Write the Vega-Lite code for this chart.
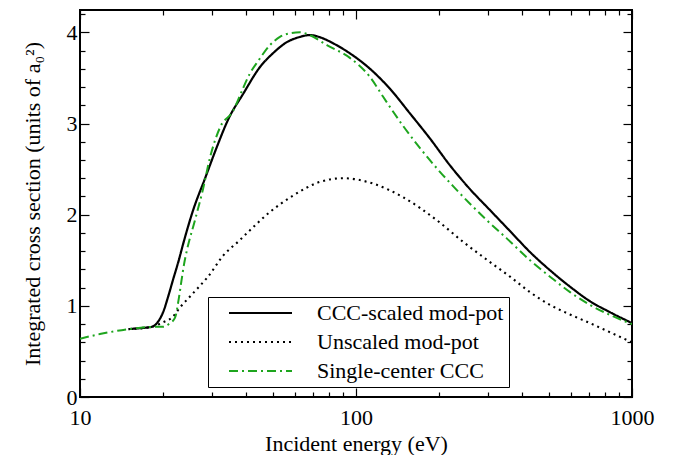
{
  "$schema": "https://vega.github.io/schema/vega-lite/v6.json",
  "autosize": "none",
  "width": 552,
  "height": 387,
  "padding": {"left": 80, "top": 10, "right": 50, "bottom": 58},
  "background": "white",
  "config": {
    "view": {"stroke": "black", "strokeWidth": 2},
    "font": "Liberation Serif",
    "axis": {"domain": false, "grid": false, "labelFont": "Liberation Serif", "titleFont": "Liberation Serif", "labelFontSize": 22, "titleFontSize": 22, "titleFontWeight": "normal", "labelColor": "black", "titleColor": "black", "tickColor": "black", "tickWidth": 1.2}
  },
  "data": {"values": [
    {"E": 15.0, "s": 0.745, "series": "CCC-scaled mod-pot"},
    {"E": 16.5, "s": 0.755, "series": "CCC-scaled mod-pot"},
    {"E": 18.2, "s": 0.77, "series": "CCC-scaled mod-pot"},
    {"E": 19.0, "s": 0.81, "series": "CCC-scaled mod-pot"},
    {"E": 20.0, "s": 0.93, "series": "CCC-scaled mod-pot"},
    {"E": 21.0, "s": 1.13, "series": "CCC-scaled mod-pot"},
    {"E": 21.7, "s": 1.28, "series": "CCC-scaled mod-pot"},
    {"E": 22.8, "s": 1.50, "series": "CCC-scaled mod-pot"},
    {"E": 23.6, "s": 1.67, "series": "CCC-scaled mod-pot"},
    {"E": 25.7, "s": 2.05, "series": "CCC-scaled mod-pot"},
    {"E": 28.4, "s": 2.40, "series": "CCC-scaled mod-pot"},
    {"E": 31.3, "s": 2.74, "series": "CCC-scaled mod-pot"},
    {"E": 34.5, "s": 3.05, "series": "CCC-scaled mod-pot"},
    {"E": 39.1, "s": 3.33, "series": "CCC-scaled mod-pot"},
    {"E": 44.9, "s": 3.62, "series": "CCC-scaled mod-pot"},
    {"E": 50.0, "s": 3.77, "series": "CCC-scaled mod-pot"},
    {"E": 56.0, "s": 3.89, "series": "CCC-scaled mod-pot"},
    {"E": 62.7, "s": 3.95, "series": "CCC-scaled mod-pot"},
    {"E": 68.0, "s": 3.97, "series": "CCC-scaled mod-pot"},
    {"E": 75.0, "s": 3.94, "series": "CCC-scaled mod-pot"},
    {"E": 82.6, "s": 3.88, "series": "CCC-scaled mod-pot"},
    {"E": 95.0, "s": 3.77, "series": "CCC-scaled mod-pot"},
    {"E": 112.4, "s": 3.60, "series": "CCC-scaled mod-pot"},
    {"E": 132.8, "s": 3.38, "series": "CCC-scaled mod-pot"},
    {"E": 156.9, "s": 3.11, "series": "CCC-scaled mod-pot"},
    {"E": 185.4, "s": 2.835, "series": "CCC-scaled mod-pot"},
    {"E": 219.1, "s": 2.54, "series": "CCC-scaled mod-pot"},
    {"E": 258.8, "s": 2.28, "series": "CCC-scaled mod-pot"},
    {"E": 305.8, "s": 2.05, "series": "CCC-scaled mod-pot"},
    {"E": 361.4, "s": 1.82, "series": "CCC-scaled mod-pot"},
    {"E": 427, "s": 1.59, "series": "CCC-scaled mod-pot"},
    {"E": 504.6, "s": 1.39, "series": "CCC-scaled mod-pot"},
    {"E": 596.3, "s": 1.21, "series": "CCC-scaled mod-pot"},
    {"E": 704.6, "s": 1.05, "series": "CCC-scaled mod-pot"},
    {"E": 832.4, "s": 0.93, "series": "CCC-scaled mod-pot"},
    {"E": 1000, "s": 0.81, "series": "CCC-scaled mod-pot"},

    {"E": 15.0, "s": 0.745, "series": "Unscaled mod-pot"},
    {"E": 18.2, "s": 0.77, "series": "Unscaled mod-pot"},
    {"E": 20.0, "s": 0.82, "series": "Unscaled mod-pot"},
    {"E": 21.7, "s": 0.88, "series": "Unscaled mod-pot"},
    {"E": 23.0, "s": 0.98, "series": "Unscaled mod-pot"},
    {"E": 25.0, "s": 1.10, "series": "Unscaled mod-pot"},
    {"E": 27.2, "s": 1.22, "series": "Unscaled mod-pot"},
    {"E": 29.1, "s": 1.32, "series": "Unscaled mod-pot"},
    {"E": 33.0, "s": 1.55, "series": "Unscaled mod-pot"},
    {"E": 37.9, "s": 1.72, "series": "Unscaled mod-pot"},
    {"E": 41.3, "s": 1.83, "series": "Unscaled mod-pot"},
    {"E": 48.8, "s": 2.03, "series": "Unscaled mod-pot"},
    {"E": 59.2, "s": 2.21, "series": "Unscaled mod-pot"},
    {"E": 74.1, "s": 2.36, "series": "Unscaled mod-pot"},
    {"E": 89.8, "s": 2.40, "series": "Unscaled mod-pot"},
    {"E": 115.6, "s": 2.34, "series": "Unscaled mod-pot"},
    {"E": 148.4, "s": 2.19, "series": "Unscaled mod-pot"},
    {"E": 196.1, "s": 1.94, "series": "Unscaled mod-pot"},
    {"E": 244.8, "s": 1.70, "series": "Unscaled mod-pot"},
    {"E": 293.4, "s": 1.52, "series": "Unscaled mod-pot"},
    {"E": 361.4, "s": 1.32, "series": "Unscaled mod-pot"},
    {"E": 427, "s": 1.15, "series": "Unscaled mod-pot"},
    {"E": 504.6, "s": 1.01, "series": "Unscaled mod-pot"},
    {"E": 596.3, "s": 0.905, "series": "Unscaled mod-pot"},
    {"E": 704.6, "s": 0.81, "series": "Unscaled mod-pot"},
    {"E": 832.4, "s": 0.71, "series": "Unscaled mod-pot"},
    {"E": 1000, "s": 0.60, "series": "Unscaled mod-pot"},

    {"E": 10.0, "s": 0.64, "series": "Single-center CCC"},
    {"E": 11.8, "s": 0.69, "series": "Single-center CCC"},
    {"E": 15.1, "s": 0.745, "series": "Single-center CCC"},
    {"E": 19.0, "s": 0.77, "series": "Single-center CCC"},
    {"E": 20.0, "s": 0.77, "series": "Single-center CCC"},
    {"E": 21.0, "s": 0.80, "series": "Single-center CCC"},
    {"E": 22.1, "s": 0.87, "series": "Single-center CCC"},
    {"E": 22.8, "s": 1.08, "series": "Single-center CCC"},
    {"E": 23.3, "s": 1.27, "series": "Single-center CCC"},
    {"E": 23.8, "s": 1.45, "series": "Single-center CCC"},
    {"E": 24.4, "s": 1.61, "series": "Single-center CCC"},
    {"E": 26.1, "s": 1.94, "series": "Single-center CCC"},
    {"E": 27.9, "s": 2.28, "series": "Single-center CCC"},
    {"E": 29.6, "s": 2.63, "series": "Single-center CCC"},
    {"E": 32.2, "s": 2.96, "series": "Single-center CCC"},
    {"E": 35.9, "s": 3.14, "series": "Single-center CCC"},
    {"E": 38.5, "s": 3.35, "series": "Single-center CCC"},
    {"E": 41.3, "s": 3.55, "series": "Single-center CCC"},
    {"E": 44.3, "s": 3.69, "series": "Single-center CCC"},
    {"E": 48.8, "s": 3.86, "series": "Single-center CCC"},
    {"E": 53.0, "s": 3.95, "series": "Single-center CCC"},
    {"E": 57.7, "s": 3.99, "series": "Single-center CCC"},
    {"E": 62.7, "s": 4.00, "series": "Single-center CCC"},
    {"E": 68.0, "s": 3.97, "series": "Single-center CCC"},
    {"E": 78.4, "s": 3.86, "series": "Single-center CCC"},
    {"E": 95.0, "s": 3.72, "series": "Single-center CCC"},
    {"E": 112.4, "s": 3.51, "series": "Single-center CCC"},
    {"E": 125.6, "s": 3.29, "series": "Single-center CCC"},
    {"E": 148.4, "s": 2.97, "series": "Single-center CCC"},
    {"E": 170.6, "s": 2.73, "series": "Single-center CCC"},
    {"E": 196.1, "s": 2.51, "series": "Single-center CCC"},
    {"E": 225.2, "s": 2.31, "series": "Single-center CCC"},
    {"E": 258.8, "s": 2.12, "series": "Single-center CCC"},
    {"E": 297.6, "s": 1.94, "series": "Single-center CCC"},
    {"E": 351.6, "s": 1.74, "series": "Single-center CCC"},
    {"E": 427, "s": 1.50, "series": "Single-center CCC"},
    {"E": 504.6, "s": 1.32, "series": "Single-center CCC"},
    {"E": 596.3, "s": 1.15, "series": "Single-center CCC"},
    {"E": 704.6, "s": 1.01, "series": "Single-center CCC"},
    {"E": 832.4, "s": 0.90, "series": "Single-center CCC"},
    {"E": 1000, "s": 0.80, "series": "Single-center CCC"}
  ]},
  "layer": [
    {
      "mark": {"type": "line", "clip": true, "interpolate": "monotone"},
      "encoding": {
        "x": {"field": "E", "type": "quantitative",
          "scale": {"type": "log", "domain": [10, 1000], "nice": false},
          "axis": {"orient": "bottom", "title": "Incident energy (eV)",
            "values": [10,20,30,40,50,60,70,80,90,100,200,300,400,500,600,700,800,900,1000],
            "labelExpr": "indexof([10,100,1000], datum.value) >= 0 ? format(datum.value, 'd') : ''",
            "tickSize": {"condition": {"test": "indexof([10,100,1000], datum.value) >= 0", "value": -9}, "value": -5},
            "labelPadding": 19, "labelDx": 3, "titlePadding": 1, "labelFlush": false, "labelOverlap": false}},
        "y": {"field": "s", "type": "quantitative",
          "scale": {"domain": [0, 4.245], "nice": false},
          "axis": {"orient": "left", "title": "Integrated cross section (units of a₀²)",
            "values": [0,0.2,0.4,0.6,0.8,1,1.2,1.4,1.6,1.8,2,2.2,2.4,2.6,2.8,3,3.2,3.4,3.6,3.8,4,4.2],
            "labelExpr": "datum.value % 1 === 0 ? format(datum.value, 'd') : ''",
            "tickSize": {"condition": {"test": "datum.value % 1 === 0", "value": -9}, "value": -5},
            "labelPadding": 12, "titlePadding": 22, "labelOverlap": false}},
        "color": {"field": "series", "type": "nominal",
          "scale": {"domain": ["CCC-scaled mod-pot", "Unscaled mod-pot", "Single-center CCC"], "range": ["black", "black", "#1ea51e"]},
          "legend": {"title": null, "orient": "none", "legendX": 128, "legendY": 287,
            "strokeColor": "black", "fillColor": "white", "padding": 5,
            "labelFont": "Liberation Serif", "labelFontSize": 22, "labelColor": "black", "labelLimit": 400,
            "symbolType": "M1,0H13.6", "symbolSize": 100, "symbolStrokeWidth": 2, "labelOffset": 82, "rowPadding": 7, "cornerRadius": 0}},
        "strokeDash": {"field": "series", "type": "nominal",
          "scale": {"domain": ["CCC-scaled mod-pot", "Unscaled mod-pot", "Single-center CCC"], "range": [[1, 0], [2, 4], [9, 4, 2, 4]]}},
        "strokeWidth": {"field": "series", "type": "nominal",
          "scale": {"domain": ["CCC-scaled mod-pot", "Unscaled mod-pot", "Single-center CCC"], "range": [2.2, 2, 1.6]}, "legend": null}
      }
    },
    {
      "mark": {"type": "line", "opacity": 0},
      "encoding": {
        "x": {"field": "E", "type": "quantitative",
          "scale": {"type": "log", "domain": [10, 1000], "nice": false},
          "axis": {"orient": "top", "title": null, "labels": false,
            "values": [10,20,30,40,50,60,70,80,90,100,200,300,400,500,600,700,800,900,1000],
            "tickSize": {"condition": {"test": "indexof([10,100,1000], datum.value) >= 0", "value": -9}, "value": -5}}},
        "y": {"field": "s", "type": "quantitative",
          "scale": {"domain": [0, 4.245], "nice": false},
          "axis": {"orient": "right", "title": null, "labels": false,
            "values": [0,0.2,0.4,0.6,0.8,1,1.2,1.4,1.6,1.8,2,2.2,2.4,2.6,2.8,3,3.2,3.4,3.6,3.8,4,4.2],
            "tickSize": {"condition": {"test": "datum.value % 1 === 0", "value": -9}, "value": -5}}},
        "detail": {"field": "series", "type": "nominal"}
      }
    }
  ],
  "resolve": {"axis": {"x": "independent", "y": "independent"}}
}
